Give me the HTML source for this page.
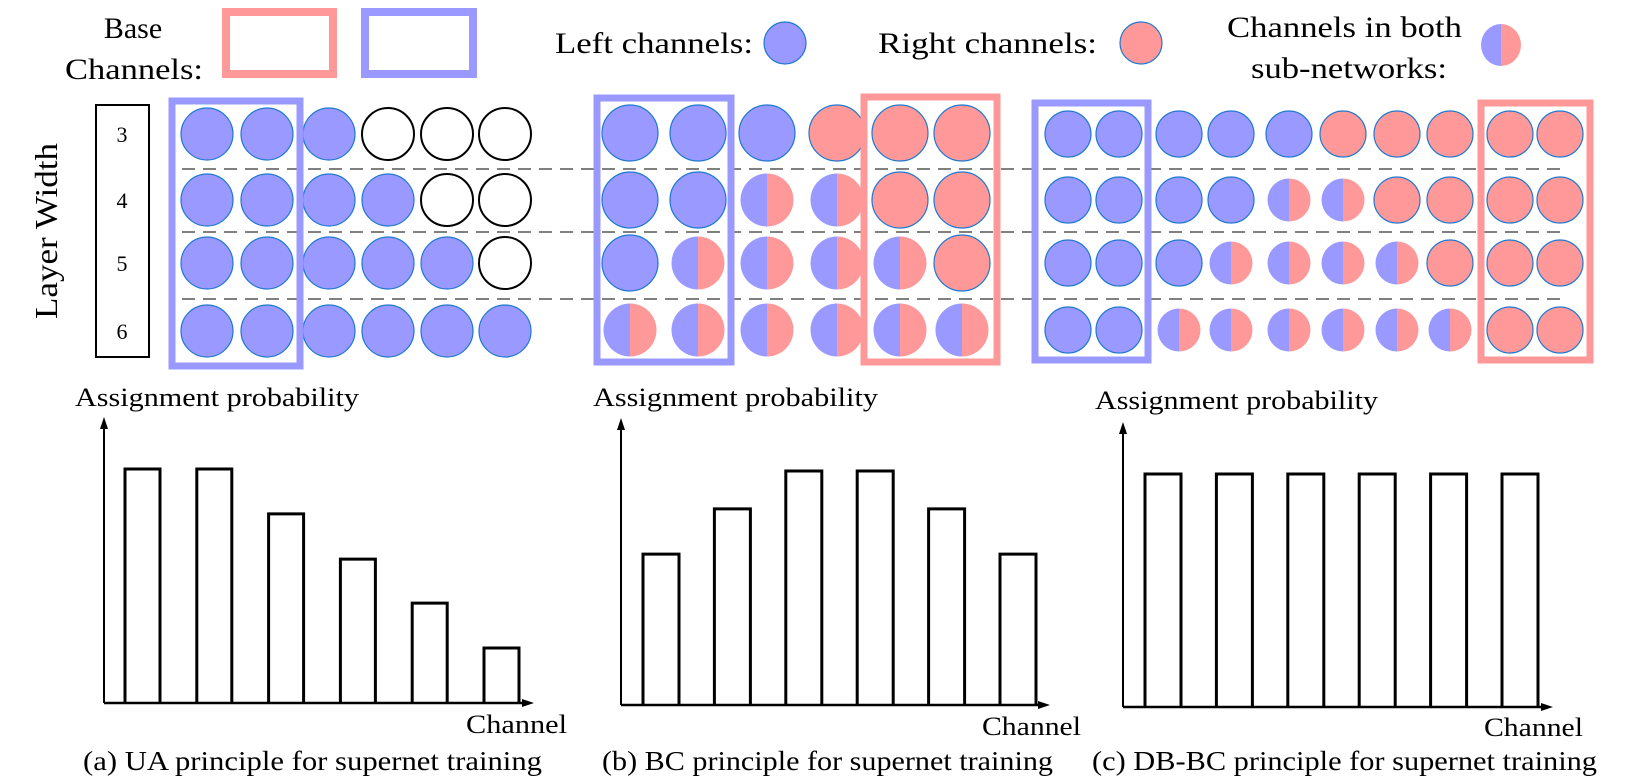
<!DOCTYPE html>
<html><head><meta charset="utf-8"><style>
html,body{margin:0;padding:0;background:#fff;}
svg{display:block;}
svg text{font-family:"Liberation Serif","Times New Roman",Times,serif;}
</style></head><body>
<svg id="fig" width="1632" height="784" viewBox="0 0 1632 784" xmlns="http://www.w3.org/2000/svg" font-family="Liberation Serif, Times New Roman, serif">
  <g>
    <text x="133" y="38" font-size="30" text-anchor="middle">Base</text>
    <text x="65" y="79" font-size="30" textLength="138" lengthAdjust="spacingAndGlyphs">Channels:</text>
    <rect x="226" y="12" width="107" height="62" fill="none" stroke="#ff9999" stroke-width="8"/>
    <rect x="365" y="12" width="108" height="62" fill="none" stroke="#9999ff" stroke-width="8"/>
    <text x="555" y="53" font-size="30" textLength="198" lengthAdjust="spacingAndGlyphs">Left channels:</text>
    <circle cx="785" cy="43" r="21" fill="#9999ff" stroke="#1f78d0" stroke-width="1.2"/>
    <text x="878" y="53" font-size="30" textLength="219" lengthAdjust="spacingAndGlyphs">Right channels:</text>
    <circle cx="1141" cy="43" r="21" fill="#ff9999" stroke="#1f78d0" stroke-width="1.2"/>
    <text x="1227" y="37" font-size="30" textLength="235" lengthAdjust="spacingAndGlyphs">Channels in both</text>
    <text x="1251" y="78" font-size="30" textLength="196" lengthAdjust="spacingAndGlyphs">sub-networks:</text>
    <path d="M1501,24 A20,21 0 0 0 1501,66 Z" fill="#9999ff"/>
    <path d="M1501,24 A20,21 0 0 1 1501,66 Z" fill="#ff9999"/>
  </g>
  <text transform="translate(57,231) rotate(-90)" font-size="32" text-anchor="middle" textLength="176" lengthAdjust="spacingAndGlyphs">Layer Width</text>
  <rect x="96" y="105" width="53" height="252" fill="none" stroke="#000" stroke-width="2"/>
  <g id="widthLabels" font-size="22" text-anchor="middle"></g>
  <g id="dashes"></g>
  <g id="circles"></g>
  <g id="boxes"></g>
  <g id="charts"></g>
</svg>
<script>
const NS="http://www.w3.org/2000/svg";
function mk(tag,attrs,parent){const e=document.createElementNS(NS,tag);for(const k in attrs)e.setAttribute(k,attrs[k]);parent.appendChild(e);return e;}

const widthLabels=['3','4','5','6'];
const rowY=[134,200,263,331];
const patternA=['BBBEEE','BBBBEE','BBBBBE','BBBBBB'];
const patternB=['BBBRRR','BBHHRR','BHHHHR','HHHHHH'];
const patternC=['BBBBBRRRRR','BBBBHHRRRR','BBBHHHHRRR','BBHHHHHHRR'];

const catsA=['c1','c2','c3','c4','c5','c6'];
const valsA=[1.0,1.0,0.808,0.615,0.427,0.235];
const valsB=[0.645,0.838,1.0,1.0,0.838,0.645];
const valsC=[1.0,1.0,1.0,1.0,1.0,1.0];

const wl=document.getElementById('widthLabels');
widthLabels.forEach((t,i)=>{const e=mk('text',{x:122,y:rowY[i]+8},wl);e.textContent=t;

});

const dg=document.getElementById('dashes');
[169,232,299].forEach((y,i)=>{const l=mk('line',{x1:182,y1:y,x2:1565,y2:y,stroke:'#808080','stroke-width':2,'stroke-dasharray':'13 8'},dg);

});

const cg=document.getElementById('circles');
function drawPanel(pattern,cols,r,rows,name){
  pattern.forEach((row,ri)=>{
    [...row].forEach((ch,ci)=>{
      const cx=cols[ci],cy=rows[ri];
      if(ch==='H'){
        const rr=r-1.5;
        const g=mk('g',{},cg);
        
        
        mk('path',{d:`M${cx},${cy-rr} A${rr},${rr} 0 0 0 ${cx},${cy+rr} Z`,fill:'#9999ff'},g);
        mk('path',{d:`M${cx},${cy-rr} A${rr},${rr} 0 0 1 ${cx},${cy+rr} Z`,fill:'#ff9999'},g);
      } else {
        const fill=ch==='B'?'#9999ff':ch==='R'?'#ff9999':'#fff';
        const stroke=ch==='E'?'#000':'#1f78d0';
        const c=mk('circle',{cx:cx,cy:cy,r:r,fill:fill,stroke:stroke,'stroke-width':ch==='E'?2:1.2},cg);
        
        
      }
    });
  });
}
drawPanel(patternA,[207,267,329,388,447,505],26,rowY,'panel-a');
drawPanel(patternB,[630,698,767,837,900,962],28,[133,200,263,330],'panel-b');
drawPanel(patternC,[1068,1119,1179,1231,1289,1343,1397,1450,1510,1560],23,[134,200,263,330],'panel-c');

const bg=document.getElementById('boxes');
[[172,101,128,265,'#9999ff','panel-a-base-box'],[597,98,134,264,'#9999ff','panel-b-left-base-box'],
 [864,97,133,265,'#ff9999','panel-b-right-base-box'],[1035,103,113,257,'#9999ff','panel-c-left-base-box'],
 [1481,103,109,257,'#ff9999','panel-c-right-base-box']].forEach(b=>{
  const r=mk('rect',{x:b[0],y:b[1],width:b[2],height:b[3],fill:'none',stroke:b[4],'stroke-width':7},bg);
  
  
});

const chg=document.getElementById('charts');
function chart(o){
  const g=mk('g',{},chg);
  
  
  const yScale=v=>o.base-v*o.h;
  const xScale=i=>o.x0+i*o.step;
  o.vals.forEach((v,i)=>{
    const x=xScale(i),y=yScale(v);
    const p=mk('path',{d:`M${x},${o.base} L${x},${y} L${x+o.bw},${y} L${x+o.bw},${o.base}`,fill:'none',stroke:'#000','stroke-width':3},g);
    
    
  });
  const ya=mk('line',{x1:o.ax,y1:o.base,x2:o.ax,y2:o.top+8,stroke:'#000','stroke-width':2},g);
  
  
  const yh=mk('path',{d:`M${o.ax},${o.top} L${o.ax-4},${o.top+12} L${o.ax+4},${o.top+12} Z`,fill:'#000'},g);
  
  
  const xa=mk('line',{x1:o.ax,y1:o.base,x2:o.xend-8,y2:o.base,stroke:'#000','stroke-width':2.5},g);
  
  
  const xh=mk('path',{d:`M${o.xend},${o.base} L${o.xend-12},${o.base-4} L${o.xend-12},${o.base+4} Z`,fill:'#000'},g);
  
  
  const t=mk('text',{x:o.tx,y:o.ty,'font-size':26,textLength:o.tw,lengthAdjust:'spacingAndGlyphs'},g);
  t.textContent='Assignment probability';
  
  
  const c=mk('text',{x:o.cx,y:o.cy,'font-size':26,textLength:o.cw,lengthAdjust:'spacingAndGlyphs'},g);
  c.textContent='Channel';
  
  
  const cap=mk('text',{x:o.capx,y:770,'font-size':27,textLength:o.capw,lengthAdjust:'spacingAndGlyphs'},g);
  cap.textContent=o.cap;
  
  
}
chart({name:'chart-ua',vals:valsA,base:703,h:234,x0:125,step:71.8,bw:35,ax:104,top:417,xend:534,
  tx:75,ty:406,tw:284,cx:466,cy:733,cw:101,capx:83,capw:459,cap:'(a) UA principle for supernet training'});
chart({name:'chart-bc',vals:valsB,base:705,h:234,x0:643,step:71.4,bw:36,ax:621,top:418,xend:1050,
  tx:593,ty:406,tw:285,cx:982,cy:735,cw:99,capx:602,capw:451,cap:'(b) BC principle for supernet training'});
chart({name:'chart-dbbc',vals:valsC,base:707,h:233,x0:1145,step:71.4,bw:36,ax:1123,top:422,xend:1553,
  tx:1095,ty:409,tw:283,cx:1484,cy:736,cw:99,capx:1092,capw:505,cap:'(c) DB-BC principle for supernet training'});
</script>
</body></html>
